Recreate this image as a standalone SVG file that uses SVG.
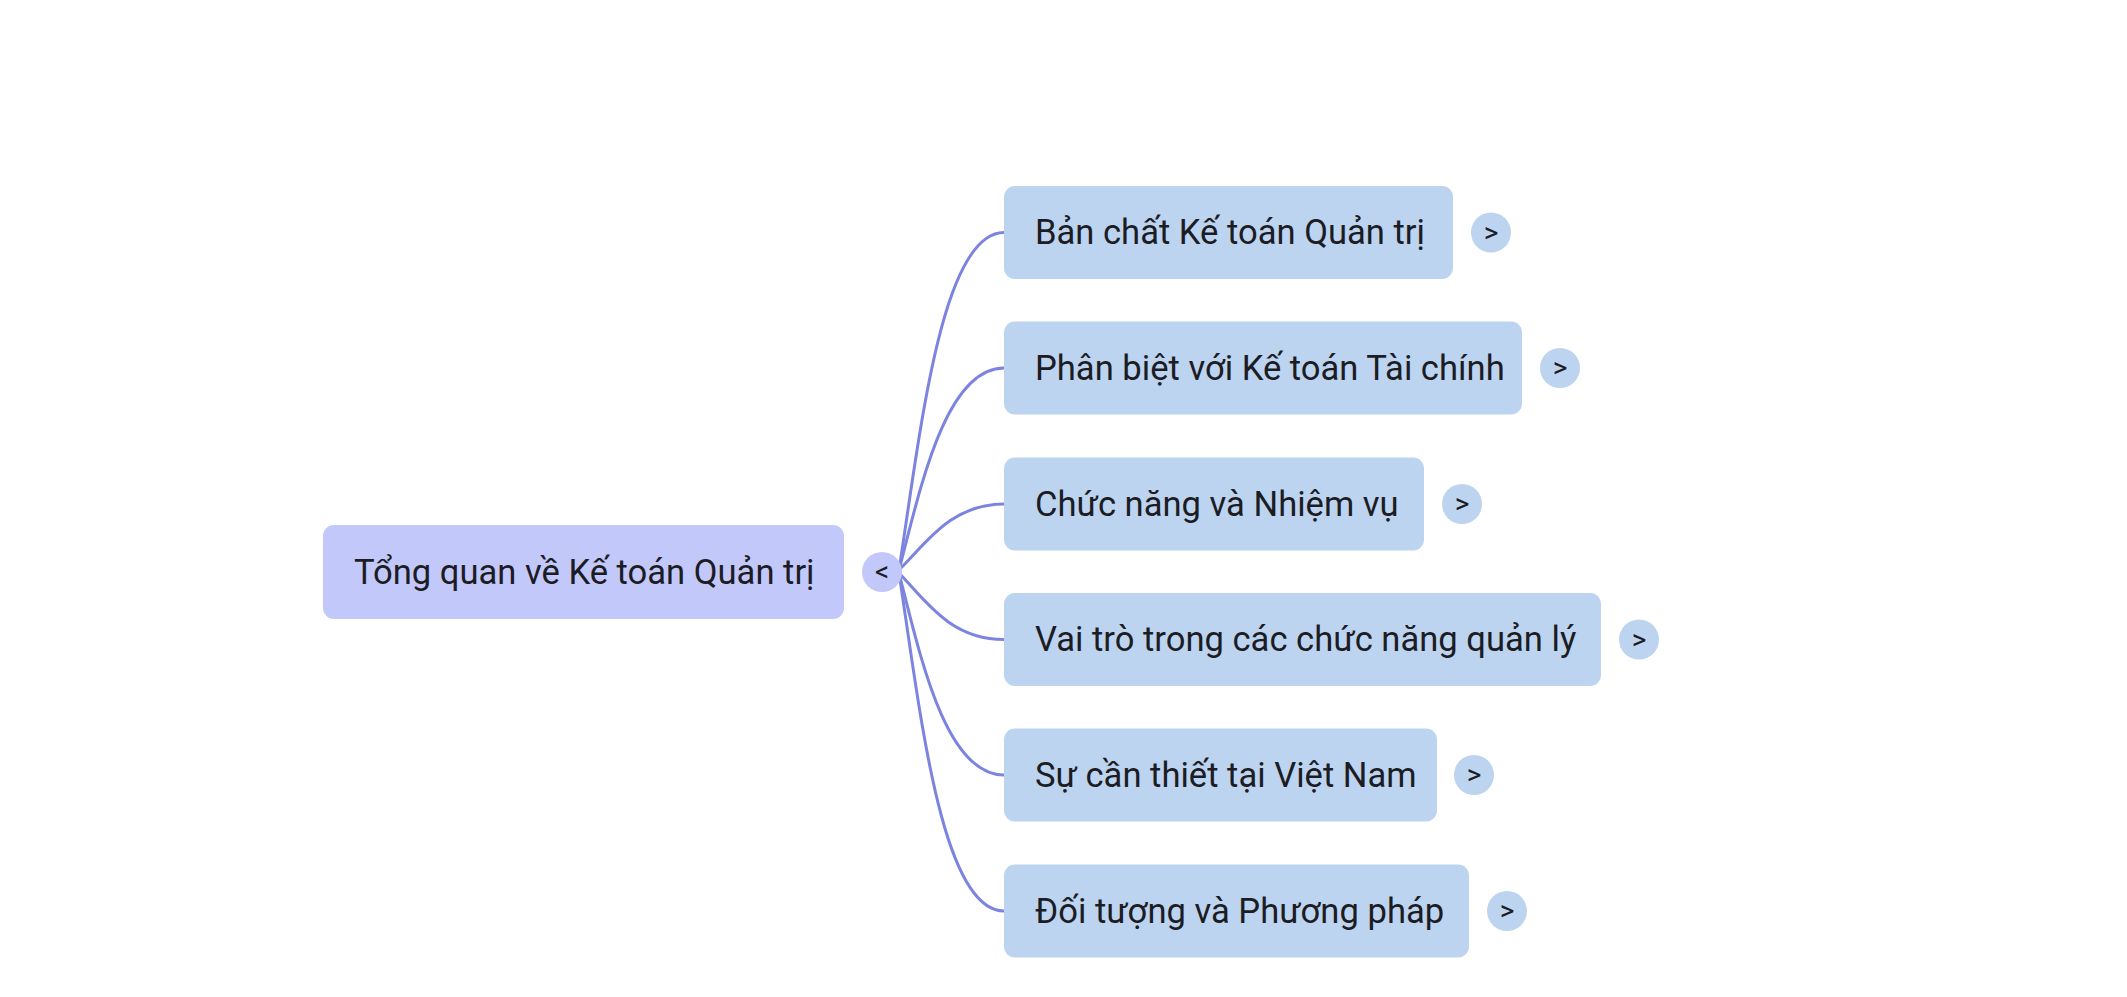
<svg xmlns="http://www.w3.org/2000/svg" width="2127" height="997" viewBox="0 0 2127 997">
<style>
.bg{fill:#ffffff}
.root{fill:#c3c8fb}
.child{fill:#bcd4f0}
.tog-root{fill:#c3c8fb}
.tog{fill:#bcd4f0}
.lbl{font-family:Roboto,"Liberation Sans",sans-serif;font-size:34.6px;fill:#1c1c24}
.tg{font-family:Roboto,"Liberation Sans",sans-serif;font-size:28px;fill:#1c1c24;text-anchor:middle}
.link{fill:none;stroke:#7c84e0;stroke-width:3;stroke-linecap:round}
</style>
<rect class="bg" x="0" y="0" width="2127" height="997"/>
<g id="connectors">
<path class="link" d="M899 570 C920 435 941 232.5 1004 232.5"/>
<path class="link" d="M899 570 C920 490 945 368 1004 368"/>
<path class="link" d="M899 570 C925 545 950 504 1004 504"/>
<path class="link" d="M899 573 C925 600 950 639.5 1004 639.5"/>
<path class="link" d="M899 573 C920 655 945 775 1004 775"/>
<path class="link" d="M899 573 C920 710 941 911 1004 911"/>
</g>
<g id="root">
<rect class="root" x="323" y="525" width="521" height="94" rx="11"/>
<text class="lbl" x="354" y="584">Tổng quan về Kế toán Quản trị</text>
<circle class="tog-root" cx="882" cy="572" r="20"/>
<text class="tg" x="882" y="581">&lt;</text>
</g>
<g id="n1">
<rect class="child" x="1004" y="186" width="449" height="93" rx="11"/>
<text class="lbl" x="1035" y="244">Bản chất Kế toán Quản trị</text>
<circle class="tog" cx="1491" cy="232.5" r="20"/>
<text class="tg" x="1491" y="242">&gt;</text>
</g>
<g id="n2">
<rect class="child" x="1004" y="321.5" width="518" height="93" rx="11"/>
<text class="lbl" x="1035" y="380">Phân biệt với Kế toán Tài chính</text>
<circle class="tog" cx="1560" cy="368" r="20"/>
<text class="tg" x="1560" y="377">&gt;</text>
</g>
<g id="n3">
<rect class="child" x="1004" y="457.5" width="420" height="93" rx="11"/>
<text class="lbl" x="1035" y="516">Chức năng và Nhiệm vụ</text>
<circle class="tog" cx="1462" cy="504" r="20"/>
<text class="tg" x="1462" y="513">&gt;</text>
</g>
<g id="n4">
<rect class="child" x="1004" y="593" width="597" height="93" rx="11"/>
<text class="lbl" x="1035" y="651">Vai trò trong các chức năng quản lý</text>
<circle class="tog" cx="1639" cy="639.5" r="20"/>
<text class="tg" x="1639" y="649">&gt;</text>
</g>
<g id="n5">
<rect class="child" x="1004" y="728.5" width="433" height="93" rx="11"/>
<text class="lbl" x="1035" y="787">Sự cần thiết tại Việt Nam</text>
<circle class="tog" cx="1474" cy="775" r="20"/>
<text class="tg" x="1474" y="784">&gt;</text>
</g>
<g id="n6">
<rect class="child" x="1004" y="864.5" width="465" height="93" rx="11"/>
<text class="lbl" x="1035" y="923">Đối tượng và Phương pháp</text>
<circle class="tog" cx="1507" cy="911" r="20"/>
<text class="tg" x="1507" y="920">&gt;</text>
</g>
</svg>
